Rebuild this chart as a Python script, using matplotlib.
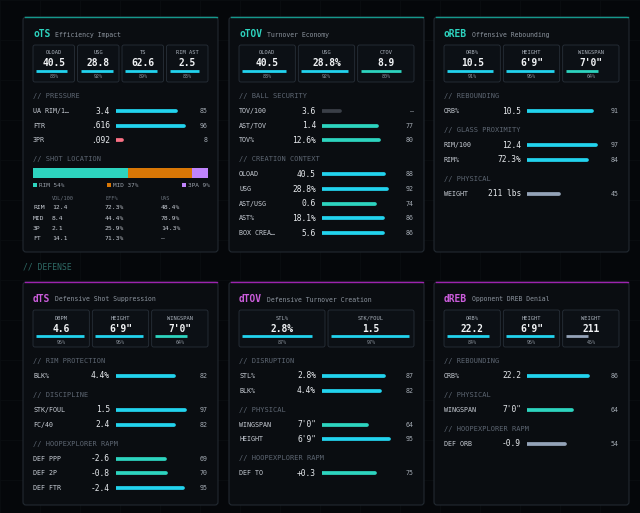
import matplotlib
matplotlib.use("Agg")
import matplotlib.pyplot as plt
from matplotlib.patches import FancyBboxPatch, Rectangle

plt.rcParams["font.family"] = ["DejaVu Sans Mono"]

W, H = 640, 513

# ---- data -------------------------------------------------------------
ots_boxes = [("OLOAD", "40.5", 88), ("USG", "28.8", 92), ("TS", "62.6", 89), ("RIM AST", "2.5", 83)]
ots_pressure = [("UA RIM/1…", "3.4", 85), ("FTR", ".616", 96), ("3PR", ".092", 8)]
shot_zones = ["RIM", "MID", "3PA"]
shot_share = [54, 37, 9]
shot_cols = ["VOL/100", "EFF%", "UAS"]
shot_table = [("RIM", "12.4", "72.3%", "48.4%"),
              ("MID", "8.4", "44.4%", "78.9%"),
              ("3P", "2.1", "25.9%", "14.3%"),
              ("FT", "14.1", "71.3%", "—")]

otov_boxes = [("OLOAD", "40.5", 88), ("USG", "28.8%", 92), ("CTOV", "8.9", 80)]
otov_ball = [("TOV/100", "3.6", None), ("AST/TOV", "1.4", 77), ("TOV%", "12.6%", 80)]
otov_creation = [("OLOAD", "40.5", 88), ("USG", "28.8%", 92), ("AST/USG", "0.6", 74),
                 ("AST%", "18.1%", 86), ("BOX CREA…", "5.6", 86)]

oreb_boxes = [("ORB%", "10.5", 91), ("HEIGHT", "6'9\"", 95), ("WINGSPAN", "7'0\"", 64)]
oreb_reb = [("ORB%", "10.5", 91)]
oreb_glass = [("RIM/100", "12.4", 97), ("RIM%", "72.3%", 84)]
oreb_phys = [("WEIGHT", "211 lbs", 45)]

dts_boxes = [("DBPM", "4.6", 95), ("HEIGHT", "6'9\"", 95), ("WINGSPAN", "7'0\"", 64)]
dts_rim = [("BLK%", "4.4%", 82)]
dts_disc = [("STK/FOUL", "1.5", 97), ("FC/40", "2.4", 82)]
dts_rapm = [("DEF PPP", "-2.6", 69), ("DEF 2P", "-0.8", 70), ("DEF FTR", "-2.4", 95)]

dtov_boxes = [("STL%", "2.8%", 87), ("STK/FOUL", "1.5", 97)]
dtov_disr = [("STL%", "2.8%", 87), ("BLK%", "4.4%", 82)]
dtov_phys = [("WINGSPAN", "7'0\"", 64), ("HEIGHT", "6'9\"", 95)]
dtov_rapm = [("DEF TO", "+0.3", 75)]

dreb_boxes = [("ORB%", "22.2", 84), ("HEIGHT", "6'9\"", 95), ("WEIGHT", "211", 45)]
dreb_reb = [("ORB%", "22.2", 86)]
dreb_phys = [("WINGSPAN", "7'0\"", 64)]
dreb_rapm = [("DEF ORB", "-0.9", 54)]

NO_PCT_BAR = 25  # placeholder length when a stat has no percentile

# ---- style ------------------------------------------------------------
BG = "#05070a"
PANEL = "#0a0d11"
BORDER = "#222931"
BOXFC = "#0c1015"
BOXEC = "#283039"
CYAN = "#22d3ee"
TEAL = "#2dd4bf"
GREY = "#94a3b8"
PINK = "#fb7185"
DIM = "#3a3f47"
OFF_ACC = "#14b8a6"
DEF_ACC = "#c026d3"
OFF_TITLE = "#2dd4bf"
DEF_TITLE = "#cc5ddc"


def tier(p):
    if p is None:
        return DIM
    if p > 80:
        return CYAN
    if p >= 60:
        return TEAL
    if p >= 30:
        return GREY
    return PINK


fig = plt.figure(figsize=(W / 100, H / 100), dpi=100, facecolor=BG)
bg = fig.add_axes([0, 0, 1, 1])
bg.set_xlim(0, W)
bg.set_ylim(H, 0)
bg.axis("off")
bg.set_facecolor(BG)

# faint background grid
for gx in range(0, W, 40):
    bg.axvline(gx, color="#0a0d11", lw=0.6, zorder=0)
for gy in range(0, H, 40):
    bg.axhline(gy, color="#0a0d11", lw=0.6, zorder=0)


def px_axes(x0, width):
    ax = fig.add_axes([x0 / W, 0, width / W, 1])
    ax.set_xlim(0, 100)
    ax.set_ylim(H, 0)
    ax.axis("off")
    ax.patch.set_alpha(0)
    return ax


PW = 195
INNER = 175


def panel(px, py, ph, accent, tcolor, title, subtitle):
    bg.add_patch(FancyBboxPatch((px, py), PW, ph, boxstyle="round,pad=0,rounding_size=3",
                                fc=PANEL, ec=BORDER, lw=0.8, zorder=1))
    bg.plot([px + 1.5, px + PW - 1.5], [py + 0.3, py + 0.3], color=accent, lw=1.0, zorder=2, alpha=0.8)
    bg.text(px + 10, py + 17, title, color=tcolor, fontsize=6.9, fontweight="bold",
            va="center", ha="left", zorder=3)
    bg.text(px + 10 + len(title) * 5.75 + 5, py + 17.5, subtitle, color="#8b939d", fontsize=4.7,
            va="center", ha="left", zorder=3)


def stat_boxes(px, top, items):
    n = len(items)
    gap = 3
    bw = (INNER - gap * (n - 1)) / n
    for i, (lab, val, p) in enumerate(items):
        bx = px + 10 + i * (bw + gap)
        bg.add_patch(FancyBboxPatch((bx, top), bw, 37, boxstyle="round,pad=0,rounding_size=2",
                                    fc=BOXFC, ec=BOXEC, lw=0.6, zorder=2))
        cx = bx + bw / 2
        bg.text(cx, top + 8, lab, color="#aab2bc", fontsize=3.9, ha="center", va="center", zorder=3)
        bg.text(cx, top + 18.5, val, color="#f1f3f5", fontsize=6.9, fontweight="bold",
                ha="center", va="center", zorder=3)
        bax = px_axes(bx + 3, bw - 6)
        bax.hlines(top + 26, 0, p, colors=tier(p), lw=2.0, zorder=4)
        bg.text(cx, top + 32, f"{p}%", color="#8d959f", fontsize=3.6, ha="center", va="center", zorder=3)


def header(px, y, txt):
    bg.text(px + 10, y, txt, color="#5d6672", fontsize=5, ha="left", va="center", zorder=3)


def row(px, bax, y, lab, val, p):
    bg.text(px + 10, y, lab, color="#c9ced6", fontsize=4.8, ha="left", va="center", zorder=3)
    bg.text(px + 87, y, val, color="#e8ebef", fontsize=5.7, ha="right", va="center", zorder=3)
    length = NO_PCT_BAR if p is None else p
    bax.hlines(y, 0, length, colors=tier(p), lw=2.7, capstyle="round", zorder=4)
    bg.text(px + 185, y, "—" if p is None else str(p), color="#a3aab3", fontsize=4.8,
            ha="right", va="center", zorder=3)


def sections(px, y, blocks):
    bax = px_axes(px + 93, 71)
    for hdr, items in blocks:
        header(px, y, hdr)
        y += 15
        for lab, val, p in items:
            row(px, bax, y, lab, val, p)
            y += 14.7
        y += 19 - 14.7
    return y


COLS = [23, 229, 434]
OFF_TOP, OFF_H = 17, 235
DEF_TOP, DEF_H = 282, 223

# ---- offense -----------------------------------------------------------
px = COLS[0]
panel(px, OFF_TOP, OFF_H, OFF_ACC, OFF_TITLE, "oTS", "Efficiency Impact")
stat_boxes(px, OFF_TOP + 28, ots_boxes)
y = sections(px, OFF_TOP + 79, [("// PRESSURE", ots_pressure)])
header(px, y, "// SHOT LOCATION")
sax = fig.add_axes([(px + 10) / W, 0, INNER / W, 1])
sax.set_xlim(0, 100)
sax.set_ylim(H, 0)
sax.axis("off")
sax.patch.set_alpha(0)
shot_colors = [TEAL, "#d97706", "#c084fc"]
left = 0
for share, c in zip(shot_share, shot_colors):
    sax.barh(y + 14, share, left=left, height=10, color=c, zorder=4)
    left += share
ly = y + 26
leg_x = [px + 10, px + 84, px + 159]
for zx, zone, share, c in zip(leg_x, shot_zones, shot_share, shot_colors):
    bg.add_patch(Rectangle((zx, ly - 2), 4, 4, fc=c, ec="none", zorder=3))
    bg.text(zx + 6, ly, f"{zone} {share}%", color="#9ca3ad", fontsize=4.3, ha="left", va="center", zorder=3)
col_x = [px + 29, px + 82, px + 138]
for cx_, cname in zip(col_x, shot_cols):
    bg.text(cx_, y + 39, cname, color="#6b737e", fontsize=3.8, ha="left", va="center", zorder=3)
for i, r in enumerate(shot_table):
    ty = y + 48.5 + i * 10.3
    bg.text(px + 10, ty, r[0], color="#c9ced6", fontsize=4.6, ha="left", va="center", zorder=3)
    for cx_, v in zip(col_x, r[1:]):
        bg.text(cx_, ty, v, color="#c9ced6", fontsize=4.6, ha="left", va="center", zorder=3)

px = COLS[1]
panel(px, OFF_TOP, OFF_H, OFF_ACC, OFF_TITLE, "oTOV", "Turnover Economy")
stat_boxes(px, OFF_TOP + 28, otov_boxes)
sections(px, OFF_TOP + 79, [("// BALL SECURITY", otov_ball), ("// CREATION CONTEXT", otov_creation)])

px = COLS[2]
panel(px, OFF_TOP, OFF_H, OFF_ACC, OFF_TITLE, "oREB", "Offensive Rebounding")
stat_boxes(px, OFF_TOP + 28, oreb_boxes)
sections(px, OFF_TOP + 79, [("// REBOUNDING", oreb_reb), ("// GLASS PROXIMITY", oreb_glass),
                            ("// PHYSICAL", oreb_phys)])

# ---- defense -----------------------------------------------------------
bg.text(23, 267, "// DEFENSE", color="#2f6b66", fontsize=5.8, ha="left", va="center", zorder=3)

px = COLS[0]
panel(px, DEF_TOP, DEF_H, DEF_ACC, DEF_TITLE, "dTS", "Defensive Shot Suppression")
stat_boxes(px, DEF_TOP + 28, dts_boxes)
sections(px, DEF_TOP + 79, [("// RIM PROTECTION", dts_rim), ("// DISCIPLINE", dts_disc),
                            ("// HOOPEXPLORER RAPM", dts_rapm)])

px = COLS[1]
panel(px, DEF_TOP, DEF_H, DEF_ACC, DEF_TITLE, "dTOV", "Defensive Turnover Creation")
stat_boxes(px, DEF_TOP + 28, dtov_boxes)
sections(px, DEF_TOP + 79, [("// DISRUPTION", dtov_disr), ("// PHYSICAL", dtov_phys),
                            ("// HOOPEXPLORER RAPM", dtov_rapm)])

px = COLS[2]
panel(px, DEF_TOP, DEF_H, DEF_ACC, DEF_TITLE, "dREB", "Opponent DREB Denial")
stat_boxes(px, DEF_TOP + 28, dreb_boxes)
sections(px, DEF_TOP + 79, [("// REBOUNDING", dreb_reb), ("// PHYSICAL", dreb_phys),
                            ("// HOOPEXPLORER RAPM", dreb_rapm)])

fig.savefig("out.png", dpi=100, facecolor=BG)
